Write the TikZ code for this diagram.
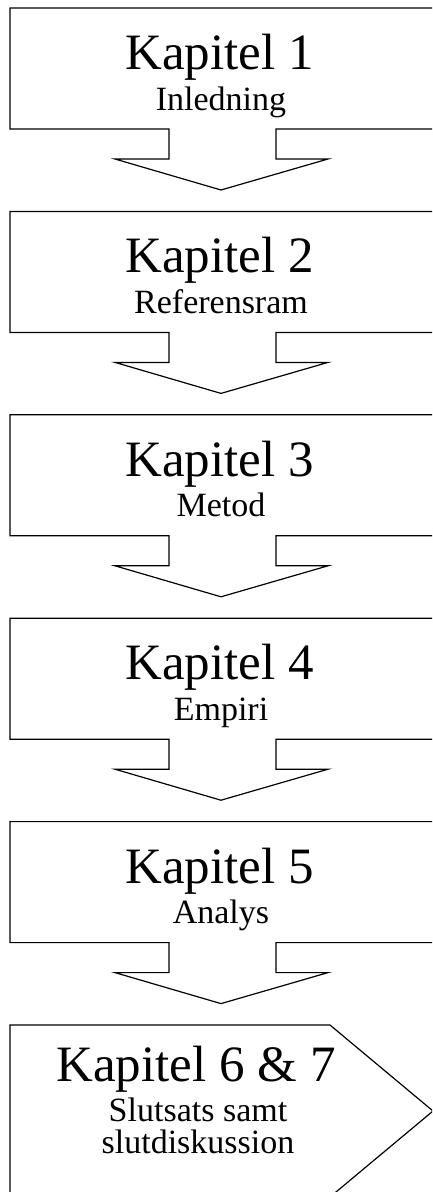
\documentclass[tikz,border=0pt]{standalone}
\usepackage{fontspec}
\setmainfont{Liberation Serif}
\begin{document}
\begin{tikzpicture}[x=1pt,y=-1pt,
  chap/.style={font=\fontsize{51}{56}\selectfont, anchor=base, inner sep=0pt},
  sub/.style={font=\fontsize{34}{38}\selectfont, anchor=base, inner sep=0pt},
  shapeline/.style={draw=black, line width=1.2pt, line join=miter}]
\useasboundingbox (0,0) rectangle (432,1192);
\clip (0,0) rectangle (432,1192);
\foreach \i/\t [count=\k from 0] in {1/Inledning,2/Referensram,3/Metod,4/Empiri,5/Analys}{
  \pgfmathsetmacro\tp{8+\k*203.4}
  \draw[shapeline] (10,\tp) -- (434,\tp) -- (434,\tp+121) -- (276,\tp+121) -- (276,\tp+151)
     -- (328,\tp+151) -- (221,\tp+182) -- (115,\tp+151) -- (169,\tp+151) -- (169,\tp+121)
     -- (10,\tp+121) -- cycle;
  \node[chap] (k\i) at (219.5,\tp+61.5) {Kapitel \i};
  \node[sub] (s\i) at (221,\tp+102) {\t};
}
\draw[shapeline] (10,1025) -- (330,1025) -- (433,1111) -- (330,1197) -- (10,1197) -- cycle;
\node[chap] (k6) at (196,1081.5) {Kapitel 6 \& 7};
\node[sub] (s6a) at (198,1121.5) {Slutsats samt};
\node[sub] (s6b) at (198,1153) {slutdiskussion};
\end{tikzpicture}
\end{document}
